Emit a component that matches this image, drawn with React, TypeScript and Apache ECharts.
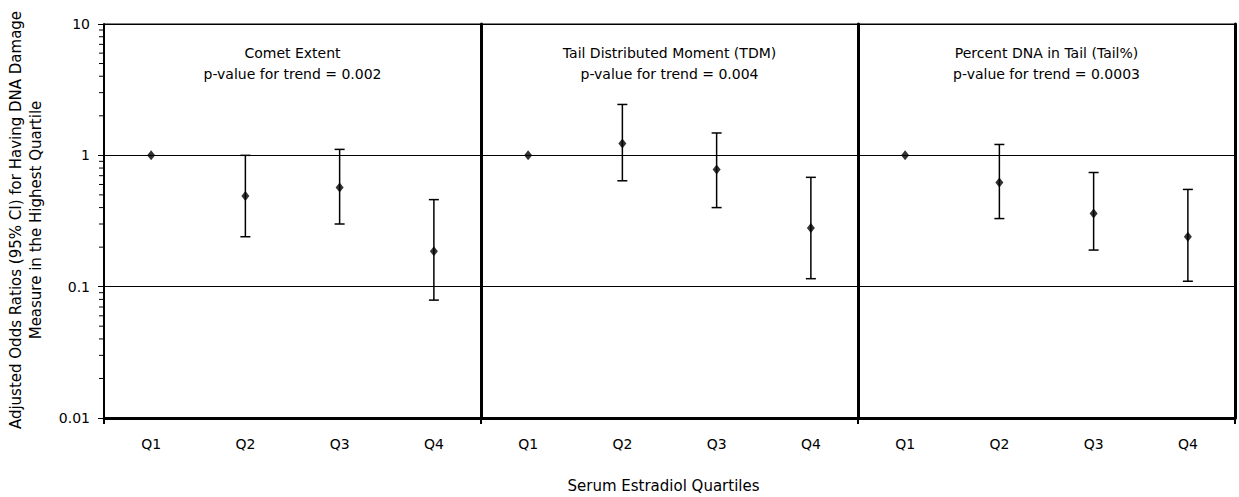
import React, { useEffect, useRef } from "react";
import * as echarts from "echarts";

const categories = ["Q1", "Q2", "Q3", "Q4"];
const panelTitles = [
  "Comet Extent\np-value for trend = 0.002",
  "Tail Distributed Moment (TDM)\np-value for trend = 0.004",
  "Percent DNA in Tail (Tail%)\np-value for trend = 0.0003",
];
const cometEst = [1, 0.49, 0.57, 0.186];
const cometLow = [null, 0.24, 0.3, 0.079];
const cometHigh = [null, 1.0, 1.11, 0.46];
const tdmEst = [1, 1.23, 0.78, 0.28];
const tdmLow = [null, 0.64, 0.4, 0.115];
const tdmHigh = [null, 2.44, 1.48, 0.68];
const tailEst = [1, 0.62, 0.36, 0.24];
const tailLow = [null, 0.33, 0.19, 0.11];
const tailHigh = [null, 1.21, 0.74, 0.55];
const yMin = 0.01;
const yMax = 10;
const minorTickValues = [
  0.02, 0.03, 0.04, 0.05, 0.06, 0.07, 0.08, 0.09,
  0.2, 0.3, 0.4, 0.5, 0.6, 0.7, 0.8, 0.9,
  2, 3, 4, 5, 6, 7, 8, 9,
];
const yTitle =
  "Adjusted Odds Ratios (95% CI) for Having DNA Damage\nMeasure in the Highest Quartile";
const xTitle = "Serum Estradiol Quartiles";

const FONT = "DejaVu Sans";
const GRID_LEFT = 104;
const GRID_TOP = 24;
const GRID_H = 394;
const PANEL_W = 377;

export default function App() {
  const ref = useRef<HTMLDivElement>(null);
  useEffect(() => {
    document.body.style.margin = "0";
    if (!ref.current) return;
    const chart = echarts.init(ref.current, null, { renderer: "svg" });
    const panels = [
      { est: cometEst, low: cometLow, high: cometHigh },
      { est: tdmEst, low: tdmLow, high: tdmHigh },
      { est: tailEst, low: tailLow, high: tailHigh },
    ];
    const grids = panels.map((_, i) => ({
      left: GRID_LEFT + i * PANEL_W,
      top: GRID_TOP,
      width: PANEL_W,
      height: GRID_H,
      show: true,
      borderColor: "#000",
      borderWidth: 1,
      backgroundColor: "transparent",
    }));
    const xAxes = panels.map((_, i) => ({
      type: "category",
      gridIndex: i,
      data: categories,
      boundaryGap: true,
      axisLine: { show: true, lineStyle: { color: "#000", width: 3 } },
      axisTick: { show: false },
      axisLabel: { color: "#000", fontSize: 14, fontFamily: FONT, margin: 19 },
      splitLine: { show: false },
    }));
    const yAxes: any[] = panels.map((_, i) => ({
      type: "log",
      logBase: 10,
      gridIndex: i,
      min: yMin,
      max: yMax,
      axisLine: { show: true, lineStyle: { color: "#000", width: i === 0 ? 2 : 3 } },
      axisTick: { show: i === 0, length: 6, lineStyle: { color: "#000", width: 1 } },
      axisLabel: {
        show: i === 0,
        color: "#000",
        fontSize: 14,
        fontFamily: FONT,
        margin: 14,
        formatter: (v: number) => String(v),
      },
      splitLine: { show: true, lineStyle: { color: "#000", width: 1 } },
    }));
    yAxes.push({
      type: "log",
      logBase: 10,
      gridIndex: 2,
      position: "right",
      min: yMin,
      max: yMax,
      axisLine: { show: true, lineStyle: { color: "#000", width: 3 } },
      axisTick: { show: false },
      axisLabel: { show: false },
      splitLine: { show: false },
    });

    const series: any[] = [];
    panels.forEach((p, i) => {
      series.push({
        type: "custom",
        xAxisIndex: i,
        yAxisIndex: i,
        clip: false,
        data: categories
          .map((c, k) => [k, p.low[k], p.high[k]])
          .filter((d) => d[1] != null),
        encode: { x: 0, y: [1, 2] },
        renderItem: (params: any, api: any) => {
          const xi = api.value(0);
          const lo = api.coord([xi, api.value(1)]);
          const hi = api.coord([xi, api.value(2)]);
          const cap = 5;
          const style = { stroke: "#000", lineWidth: 1.5 };
          return {
            type: "group",
            children: [
              { type: "line", shape: { x1: lo[0], y1: lo[1], x2: hi[0], y2: hi[1] }, style },
              { type: "line", shape: { x1: lo[0] - cap, y1: lo[1], x2: lo[0] + cap, y2: lo[1] }, style },
              { type: "line", shape: { x1: hi[0] - cap, y1: hi[1], x2: hi[0] + cap, y2: hi[1] }, style },
            ],
          };
        },
        z: 3,
      });
      series.push({
        type: "scatter",
        xAxisIndex: i,
        yAxisIndex: i,
        data: p.est.map((v, k) => [k, v]),
        symbol: "diamond",
        symbolSize: [8, 10],
        itemStyle: { color: "#000" },
        z: 4,
      });
    });
    series.push({
      type: "custom",
      xAxisIndex: 0,
      yAxisIndex: 0,
      clip: false,
      silent: true,
      data: minorTickValues.map((v) => [0, v]),
      encode: { x: 0, y: 1 },
      renderItem: (params: any, api: any) => {
        const y = api.coord([0, api.value(1)])[1];
        const x0 = params.coordSys.x;
        return {
          type: "line",
          shape: { x1: x0 - 5, y1: y, x2: x0, y2: y },
          style: { stroke: "#000", lineWidth: 1 },
        };
      },
    });

    const titles = panelTitles.map((t, i) => ({
      text: t,
      left: GRID_LEFT + i * PANEL_W + PANEL_W / 2,
      top: 42,
      padding: 0,
      textAlign: "center",
      textStyle: {
        fontSize: 14,
        fontWeight: "normal",
        fontFamily: FONT,
        color: "#000",
        lineHeight: 21,
      },
    }));

    const boundaryTicks = [0, 1, 2, 3].map((i) => ({
      type: "line",
      shape: {
        x1: GRID_LEFT + i * PANEL_W,
        y1: GRID_TOP + GRID_H,
        x2: GRID_LEFT + i * PANEL_W,
        y2: GRID_TOP + GRID_H + 6,
      },
      style: { stroke: "#000", lineWidth: 2 },
    }));

    chart.setOption({
      animation: false,
      backgroundColor: "#fff",
      title: titles,
      grid: grids,
      xAxis: xAxes,
      yAxis: yAxes,
      series,
      graphic: [
        ...boundaryTicks,
        {
          type: "text",
          x: 26,
          y: GRID_TOP + GRID_H / 2 - 1,
          rotation: Math.PI / 2,
          style: {
            text: yTitle,
            fill: "#000",
            fontSize: 15,
            fontFamily: FONT,
            lineHeight: 20,
            textAlign: "center",
            textVerticalAlign: "middle",
          },
        },
        {
          type: "text",
          x: GRID_LEFT + (3 * PANEL_W) / 2 - 6,
          y: 486,
          style: {
            text: xTitle,
            fill: "#000",
            fontSize: 15,
            fontFamily: FONT,
            textAlign: "center",
            textVerticalAlign: "middle",
          },
        },
      ],
    });
    return () => chart.dispose();
  }, []);
  return <div ref={ref} style={{ width: 1239, height: 497 }} />;
}
